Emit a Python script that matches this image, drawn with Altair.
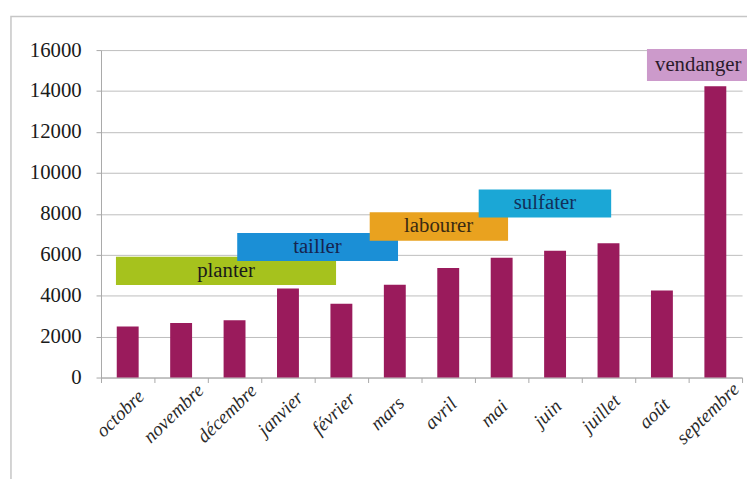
import altair as alt
import pandas as pd

months = ["octobre", "novembre", "décembre", "janvier", "février", "mars",
          "avril", "mai", "juin", "juillet", "août", "septembre"]
values = [2500, 2670, 2800, 4350, 3600, 4530, 5350, 5850, 6200, 6560, 4250, 14230]

tasks = ["planter", "tailler", "labourer", "sulfater", "vendanger"]
task_start = [0.28, 2.55, 5.03, 7.07, 10.22]
task_end = [4.40, 5.56, 7.62, 9.55, 12.2]
task_low = [4520, 5700, 6680, 7820, 14490]
task_high = [5900, 7060, 8080, 9190, 16050]
task_label_x = [2.34, 4.05, 6.32, 8.31, 11.18]
task_fill = ["#a6c21d", "#1b8fd6", "#e9a21f", "#1ba7d6", "#cc9acb"]
task_text = ["#1a1a1a", "#16244f", "#3a2a12", "#12305a", "#2a1a2a"]

bar_color = "#9a1b5c"
font = "Liberation Serif"

df = pd.DataFrame({"mois": months, "valeur": values})
tdf = pd.DataFrame({
    "task": tasks, "start": task_start, "end": task_end,
    "low": task_low, "high": task_high, "lx": task_label_x,
    "fill": task_fill, "txt": task_text,
})
tdf["mid"] = (tdf["low"] + tdf["high"]) / 2

yscale = alt.Scale(domain=[0, 16000], nice=False)
xq = alt.Scale(domain=[0, 12], nice=False, zero=False)

bars = alt.Chart(df).mark_bar(width=alt.RelativeBandSize(0.41), color=bar_color).encode(
    x=alt.X("mois:N", sort=months, title=None,
            scale=alt.Scale(paddingInner=0, paddingOuter=0),
            axis=alt.Axis(tickBand="extent", labelAngle=-44, labelAlign="center",
                          labelBaseline="middle", labelOffset=-8, labelPadding=31,
                          labelFont=font, labelFontSize=19.5, labelFontStyle="italic",
                          labelColor="#2a2a2a", domainColor="#a8a8a8",
                          tickColor="#a8a8a8", tickSize=5, grid=False)),
    y=alt.Y("valeur:Q", scale=yscale, title=None,
            axis=alt.Axis(values=list(range(0, 16001, 2000)), format="d",
                          labelFont=font, labelFontSize=21, labelColor="#1a1a1a",
                          labelPadding=15, tickSize=5, tickColor="#a8a8a8",
                          domainColor="#a8a8a8", gridColor="#bdbdbd",
                          labelFlush=False)),
)

boxes = alt.Chart(tdf).mark_rect().encode(
    x=alt.X("start:Q", scale=xq, axis=None),
    x2="end:Q",
    y=alt.Y("low:Q", scale=yscale, title=None),
    y2="high:Q",
    color=alt.Color("fill:N", scale=None, legend=None),
)

labels = alt.Chart(tdf).mark_text(font=font, fontSize=21, baseline="middle").encode(
    x=alt.X("lx:Q", scale=xq, axis=None),
    y=alt.Y("mid:Q", scale=yscale, title=None),
    text="task:N",
    color=alt.Color("txt:N", scale=None, legend=None),
)

frame = alt.Chart(pd.DataFrame({"a": [0]})).mark_rect(
    fillOpacity=0, stroke="#c6c6c6", strokeWidth=1.5
).encode(x=alt.value(-91), x2=alt.value(670), y=alt.value(-34), y2=alt.value(460))

chart = alt.layer(frame, bars, boxes, labels).resolve_scale(x="independent").properties(
    width=648, height=331, autosize="none",
    padding={"left": 94, "top": 40, "right": 5, "bottom": 100},
).configure_view(stroke=None)

chart.save("out.html", embed_options={"renderer": "svg", "actions": False})
